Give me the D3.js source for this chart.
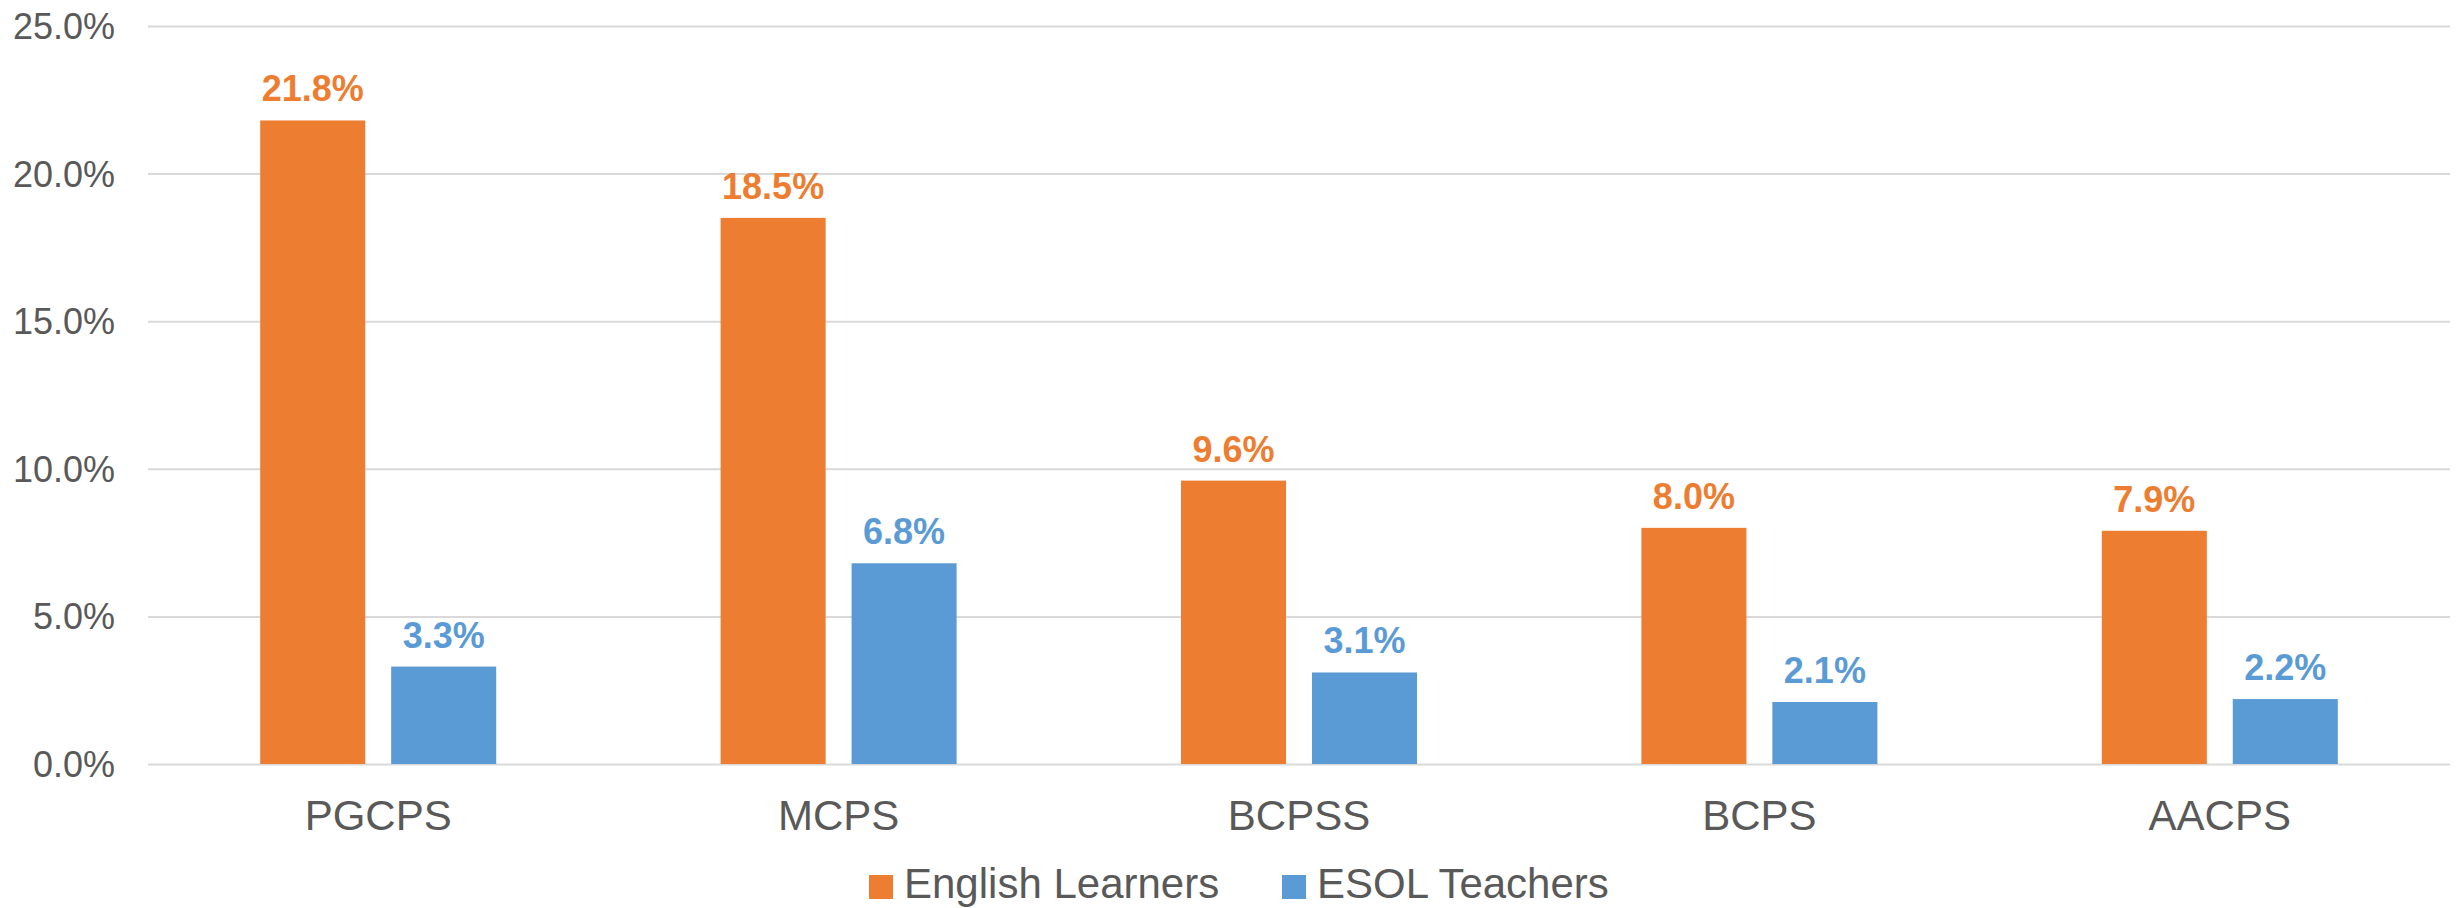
<!DOCTYPE html>
<html lang="en">
<head>
    <meta charset="UTF-8">
    <title>English Learners vs ESOL Teachers</title>
    <script src="https://d3js.org/d3.v7.min.js"></script>
    <style>
        body { margin: 0; background: #fff; }
        text { font-family: "Liberation Sans", Arial, sans-serif; fill: #595959; }
        .grid line { stroke: #d9d9d9; stroke-width: 2px; }
        .grid path { display: none; }
    </style>
</head>
<body>
    <svg width="2458" height="908"></svg>

    <script>
        const districts = ["PGCPS", "MCPS", "BCPSS", "BCPS", "AACPS"];
        const seriesNames = ["English Learners", "ESOL Teachers"];
        const englishLearners = [21.8, 18.5, 9.6, 8.0, 7.9];
        const esolTeachers = [3.3, 6.8, 3.1, 2.1, 2.2];
        const yTicks = [0, 5, 10, 15, 20, 25];
        const colors = ["#ed7d31", "#5b9bd5"];

        const margin = { top: 26, right: 8, bottom: 144, left: 148 };
        const width = 2458 - margin.left - margin.right;
        const height = 908 - margin.top - margin.bottom;

        const svg = d3.select("svg")
            .append("g")
            .attr("transform", `translate(${margin.left},${margin.top})`);

        const x = d3.scaleBand().domain(districts).range([0, width]);
        const x1 = d3.scaleBand().domain(seriesNames)
            .range([x.bandwidth() / 2 - 118, x.bandwidth() / 2 + 118])
            .paddingInner(0.198);
        const y = d3.scaleLinear().domain([0, 25]).range([height, 0]);

        // gridlines
        svg.append("g")
            .attr("class", "grid")
            .call(d3.axisLeft(y).tickValues(yTicks).tickSize(-width).tickFormat(""));

        // y labels
        svg.selectAll(".ylab")
            .data(yTicks)
            .join("text")
            .attr("class", "ylab")
            .attr("x", -33)
            .attr("y", d => y(d) + 13)
            .attr("text-anchor", "end")
            .style("font-size", "36px")
            .text(d => d.toFixed(1) + "%");

        // x labels
        svg.selectAll(".xlab")
            .data(districts)
            .join("text")
            .attr("class", "xlab")
            .attr("x", d => x(d) + x.bandwidth() / 2)
            .attr("y", height + 66)
            .attr("text-anchor", "middle")
            .style("font-size", "42px")
            .text(d => d);

        const rows = districts.map((d, i) => ({
            district: d,
            values: [
                { key: seriesNames[0], v: englishLearners[i], c: colors[0] },
                { key: seriesNames[1], v: esolTeachers[i], c: colors[1] }
            ]
        }));

        const groups = svg.selectAll(".grp")
            .data(rows)
            .join("g")
            .attr("class", "grp")
            .attr("transform", d => `translate(${x(d.district)},0)`);

        groups.selectAll("rect")
            .data(d => d.values)
            .join("rect")
            .attr("x", d => x1(d.key))
            .attr("width", x1.bandwidth())
            .attr("y", d => y(d.v))
            .attr("height", d => height - y(d.v))
            .attr("fill", d => d.c);

        groups.selectAll(".val")
            .data(d => d.values)
            .join("text")
            .attr("class", "val")
            .attr("x", d => x1(d.key) + x1.bandwidth() / 2)
            .attr("y", d => y(d.v) - 19)
            .attr("text-anchor", "middle")
            .style("font-size", "36px")
            .style("font-weight", "bold")
            .style("fill", d => d.c)
            .text(d => d.v.toFixed(1) + "%");

        // legend
        const legendX = [869, 1282];
        const legend = d3.select("svg").selectAll(".leg")
            .data(seriesNames)
            .join("g")
            .attr("class", "leg")
            .attr("transform", (d, i) => `translate(${legendX[i]},875)`);
        legend.append("rect")
            .attr("width", 24).attr("height", 24)
            .attr("fill", (d, i) => colors[i]);
        legend.append("text")
            .attr("x", 35).attr("y", 23)
            .style("font-size", "42px")
            .text(d => d);
    </script>
</body>
</html>
